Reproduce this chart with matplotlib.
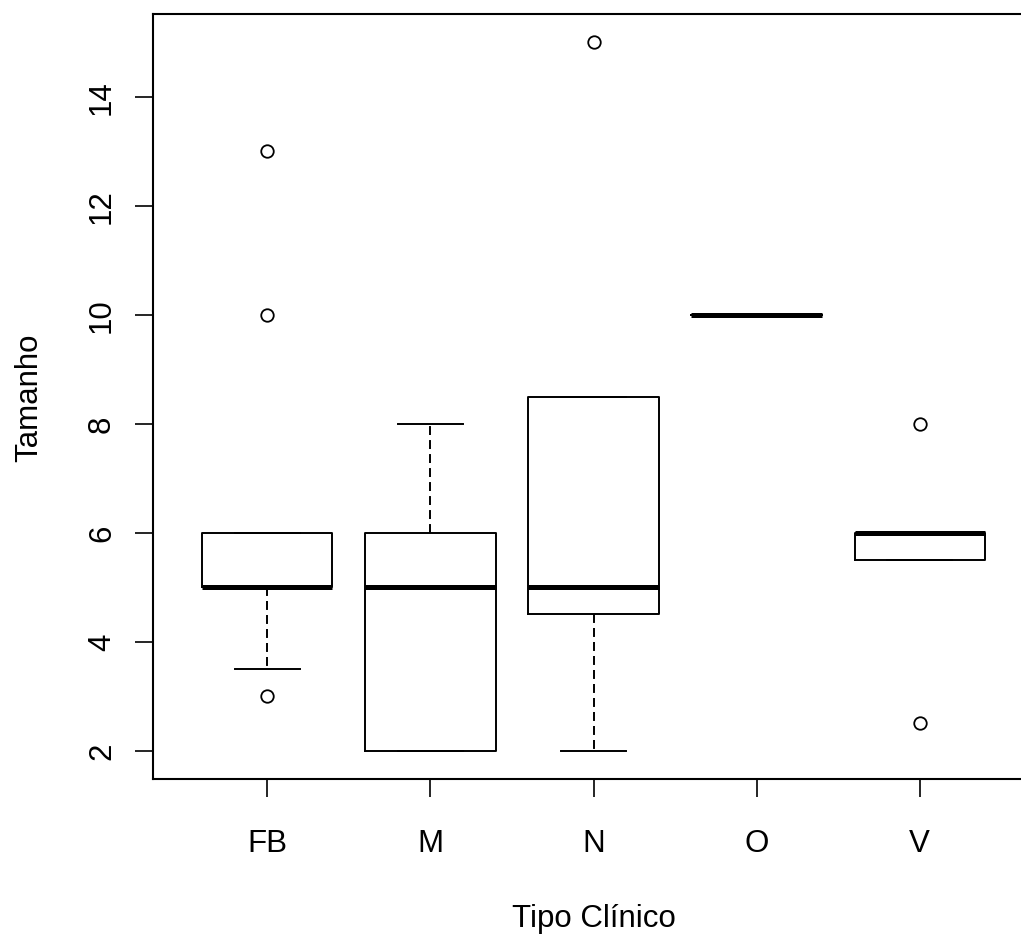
import matplotlib
matplotlib.use("Agg")
import matplotlib.pyplot as plt

categories = ["FB", "M", "N", "O", "V"]
q1 = [5.0, 2.0, 4.5, 10.0, 5.5]
medians = [5.0, 5.0, 5.0, 10.0, 6.0]
q3 = [6.0, 6.0, 8.5, 10.0, 6.0]
whisk_lo = [3.5, 2.0, 2.0, 10.0, 5.5]
whisk_hi = [6.0, 8.0, 8.5, 10.0, 6.0]
outliers = [[3.0, 10.0, 13.0], [], [15.0], [], [2.5, 8.0]]
yticks = [2, 4, 6, 8, 10, 12, 14]

plt.rcParams['font.family'] = ['Liberation Sans', 'DejaVu Sans']

W, H = 1021, 937
fig = plt.figure(figsize=(W / 100, H / 100), dpi=100)
left_px, right_px, top_px, bot_px = 153, 1034, 15, 780
ax = fig.add_axes([left_px / W, (H - bot_px) / H,
                   (right_px - left_px) / W, (bot_px - top_px) / H])

stats = []
for i, c in enumerate(categories):
    stats.append(dict(label=c, med=medians[i], q1=q1[i], q3=q3[i],
                      whislo=whisk_lo[i], whishi=whisk_hi[i],
                      fliers=outliers[i]))

lw = 1.4
positions = list(range(1, len(categories) + 1))
ax.bxp(stats, positions=positions, widths=0.8, capwidths=0.4,
       showfliers=True,
       boxprops=dict(color='black', linewidth=lw),
       medianprops=dict(color='black', linewidth=3.6, solid_capstyle='butt'),
       whiskerprops=dict(color='black', linewidth=lw, linestyle=(0, (4.6, 2.6))),
       capprops=dict(color='black', linewidth=lw),
       flierprops=dict(marker='o', markerfacecolor='none', markeredgecolor='black',
                       markersize=9, markeredgewidth=1.3, linestyle='none'))

allv = [v for arr in (q1, medians, q3, whisk_lo, whisk_hi) for v in arr]
allv += [v for f in outliers for v in f]
lo, hi = min(allv), max(allv)
ext = (hi - lo) * 0.04
ax.set_ylim(lo - ext, hi + ext)
n = len(categories)
ax.set_xlim(0.5 - 0.2, n + 0.5 + 0.2)

ax.set_xticks(positions)
ax.set_xticklabels(categories)
ax.set_yticks(yticks)
ax.set_yticklabels([str(v) for v in yticks], rotation=90, va='center')

for s in ax.spines.values():
    s.set_linewidth(1.5)
    s.set_color('black')
ax.tick_params(axis='both', direction='out', length=13, width=1.2,
               labelsize=22.5, colors='black')
ax.tick_params(axis='x', pad=22)
ax.tick_params(axis='y', pad=13)

ax.set_xlabel("Tipo Clínico", fontsize=22.5, labelpad=33)
ax.set_ylabel("Tamanho", fontsize=22.5, labelpad=31)

fig.savefig("out.png", dpi=100)
